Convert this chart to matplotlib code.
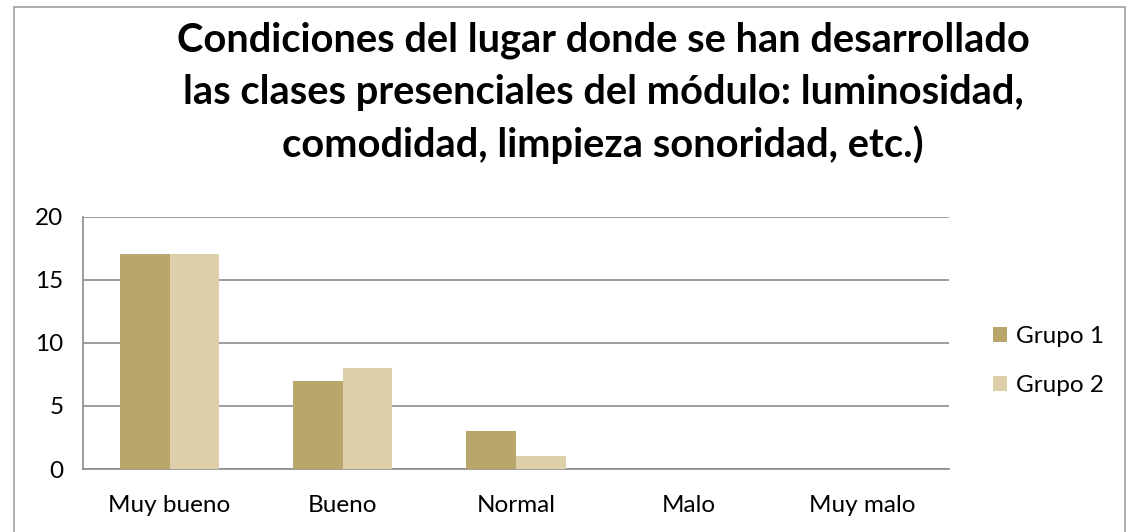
import matplotlib.pyplot as plt
import numpy as np
from matplotlib.patches import Rectangle

plt.rcParams['font.family'] = ['Lato', 'DejaVu Sans']

categorias = ["Muy bueno", "Bueno", "Normal", "Malo", "Muy malo"]
grupo1 = [17, 7, 3, 0, 0]
grupo2 = [17, 8, 1, 0, 0]
titulo = ("Condiciones del lugar donde se han desarrollado\n"
          "las clases presenciales del módulo: luminosidad,\n"
          "comodidad, limpieza sonoridad, etc.)")

c1 = "#B9A66B"
c2 = "#DCCFAA"
gris = "#8C8C8C"

fig = plt.figure(figsize=(11.3, 5.32), dpi=100)
ax = fig.add_axes([83 / 1130, 1 - 469 / 532, (949 - 83) / 1130, (469 - 216.5) / 532])

x = np.arange(len(categorias))
w = 0.286
ax.bar(x - w / 2, grupo1, w, color=c1, label="Grupo 1", zorder=3)
ax.bar(x + w / 2, grupo2, w, color=c2, label="Grupo 2", zorder=3)

ax.set_xlim(-0.5, len(categorias) - 0.5)
ax.set_ylim(0, 20)
ax.set_yticks([0, 5, 10, 15, 20])
ax.set_xticks(x)
ax.set_xticklabels(categorias)
ax.yaxis.grid(True, color=gris, linewidth=1.2, zorder=0)
ax.tick_params(length=0, labelsize=17.5, colors="black")
ax.tick_params(axis="x", pad=19)
ax.tick_params(axis="y", pad=14)
for s in ["top", "right"]:
    ax.spines[s].set_visible(False)
for s in ["left", "bottom"]:
    ax.spines[s].set_color(gris)
    ax.spines[s].set_linewidth(1.2)

fig.text(603 / 1130, 1 - 93 / 532, titulo, ha="center", va="center",
         fontsize=28.7, fontweight="bold", linespacing=1.48)

leg = fig.legend(loc="center left", bbox_to_anchor=(971 / 1130, 1 - 361 / 532),
                 frameon=False, fontsize=17.5, handlelength=0.6, handleheight=0.6,
                 handletextpad=0.35, labelspacing=1.15)

fig.patches.append(Rectangle((14 / 1130, -0.01), (1125 - 14) / 1130, 1 - 7 / 532 + 0.01,
                             transform=fig.transFigure, fill=False,
                             edgecolor="#A0A0A0", linewidth=1.2))

fig.savefig("out.png", dpi=100)
